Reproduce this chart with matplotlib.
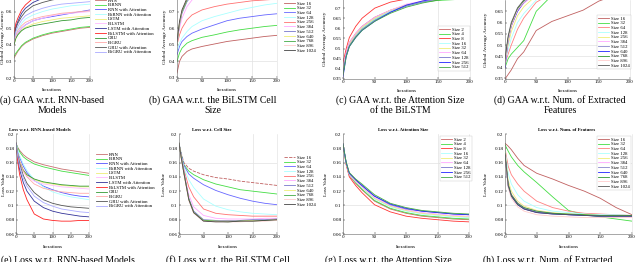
import matplotlib
matplotlib.use('Agg')
import matplotlib.pyplot as plt
from matplotlib.ticker import FuncFormatter

plt.rcParams['font.family'] = ['Liberation Serif', 'DejaVu Serif']

iters = [0, 5, 10, 20, 30, 50, 75, 100, 125, 150, 175, 200]

rnn_models = ['RNN', 'BiRNN', 'RNN with Attention', 'BiRNN with Attention', 'LSTM', 'BiLSTM',
              'LSTM with Attention', 'BiLSTM with Attention', 'GRU', 'BiGRU',
              'GRU with Attention', 'BiGRU with Attention']
cell_sizes = ['Size 16', 'Size 32', 'Size 64', 'Size 128', 'Size 256', 'Size 384',
              'Size 512', 'Size 640', 'Size 768', 'Size 896', 'Size 1024']
att_sizes = ['Size 2', 'Size 4', 'Size 8', 'Size 16', 'Size 32', 'Size 64',
             'Size 128', 'Size 256', 'Size 512']
feat_sizes = cell_sizes

gaa_rnn = [
    [0.32, 0.34, 0.36, 0.39, 0.41, 0.435, 0.455, 0.47, 0.48, 0.49, 0.50, 0.505],
    [0.33, 0.35, 0.365, 0.395, 0.415, 0.44, 0.46, 0.475, 0.485, 0.495, 0.505, 0.51],
    [0.41, 0.45, 0.47, 0.50, 0.52, 0.545, 0.56, 0.57, 0.58, 0.59, 0.60, 0.61],
    [0.42, 0.46, 0.49, 0.53, 0.555, 0.58, 0.60, 0.615, 0.625, 0.635, 0.64, 0.645],
    [0.40, 0.44, 0.46, 0.49, 0.505, 0.525, 0.54, 0.55, 0.56, 0.565, 0.57, 0.575],
    [0.42, 0.45, 0.47, 0.50, 0.52, 0.545, 0.56, 0.575, 0.585, 0.59, 0.595, 0.60],
    [0.45, 0.51, 0.54, 0.59, 0.62, 0.655, 0.68, 0.695, 0.705, 0.71, 0.715, 0.72],
    [0.47, 0.53, 0.56, 0.61, 0.64, 0.68, 0.71, 0.73, 0.74, 0.75, 0.755, 0.76],
    [0.40, 0.44, 0.46, 0.485, 0.50, 0.515, 0.525, 0.535, 0.545, 0.55, 0.56, 0.565],
    [0.42, 0.46, 0.485, 0.515, 0.535, 0.555, 0.57, 0.58, 0.59, 0.595, 0.60, 0.605],
    [0.44, 0.50, 0.53, 0.57, 0.60, 0.635, 0.655, 0.67, 0.68, 0.685, 0.69, 0.695],
    [0.43, 0.48, 0.51, 0.55, 0.575, 0.60, 0.62, 0.635, 0.645, 0.65, 0.655, 0.66],
]
gaa_cell = [
    [0.33, 0.40, 0.43, 0.46, 0.475, 0.49, 0.505, 0.52, 0.53, 0.54, 0.55, 0.557],
    [0.40, 0.45, 0.48, 0.51, 0.525, 0.545, 0.56, 0.577, 0.59, 0.60, 0.61, 0.617],
    [0.44, 0.49, 0.52, 0.55, 0.57, 0.595, 0.62, 0.645, 0.66, 0.67, 0.68, 0.687],
    [0.46, 0.51, 0.54, 0.58, 0.61, 0.645, 0.67, 0.69, 0.71, 0.725, 0.74, 0.75],
    [0.50, 0.56, 0.60, 0.65, 0.68, 0.71, 0.73, 0.745, 0.755, 0.765, 0.77, 0.775],
    [0.50, 0.60, 0.66, 0.73, 0.77, 0.81, 0.83, 0.84, 0.85, 0.85, 0.86, 0.86],
    [0.51, 0.62, 0.69, 0.76, 0.80, 0.83, 0.85, 0.86, 0.86, 0.87, 0.87, 0.87],
    [0.52, 0.63, 0.70, 0.77, 0.80, 0.84, 0.85, 0.86, 0.87, 0.87, 0.87, 0.88],
    [0.50, 0.63, 0.70, 0.77, 0.81, 0.84, 0.86, 0.86, 0.87, 0.87, 0.88, 0.88],
    [0.51, 0.63, 0.71, 0.78, 0.81, 0.84, 0.86, 0.87, 0.87, 0.88, 0.88, 0.88],
    [0.52, 0.64, 0.71, 0.78, 0.82, 0.85, 0.86, 0.87, 0.88, 0.88, 0.88, 0.89],
]
gaa_att = [
    [0.40, 0.48, 0.53, 0.575, 0.61, 0.655, 0.69, 0.715, 0.73, 0.74, 0.75, 0.755],
    [0.40, 0.47, 0.52, 0.565, 0.60, 0.645, 0.685, 0.715, 0.73, 0.738, 0.742, 0.75],
    [0.43, 0.50, 0.555, 0.61, 0.65, 0.70, 0.73, 0.745, 0.755, 0.765, 0.77, 0.775],
    [0.39, 0.47, 0.52, 0.565, 0.60, 0.645, 0.685, 0.71, 0.73, 0.745, 0.755, 0.76],
    [0.40, 0.47, 0.52, 0.57, 0.605, 0.65, 0.69, 0.715, 0.735, 0.745, 0.755, 0.76],
    [0.41, 0.48, 0.53, 0.575, 0.61, 0.655, 0.69, 0.72, 0.735, 0.745, 0.755, 0.765],
    [0.38, 0.47, 0.515, 0.56, 0.595, 0.64, 0.68, 0.71, 0.73, 0.745, 0.755, 0.765],
    [0.36, 0.46, 0.51, 0.555, 0.59, 0.635, 0.68, 0.715, 0.735, 0.75, 0.76, 0.77],
    [0.37, 0.46, 0.51, 0.555, 0.59, 0.635, 0.675, 0.705, 0.725, 0.74, 0.75, 0.76],
]
gaa_feat = [
    [0.35, 0.37, 0.39, 0.44, 0.47, 0.565, 0.605, 0.63, 0.655, 0.695, 0.72, 0.74],
    [0.40, 0.44, 0.46, 0.49, 0.52, 0.65, 0.72, 0.74, 0.75, 0.76, 0.77, 0.77],
    [0.42, 0.46, 0.50, 0.57, 0.62, 0.69, 0.73, 0.75, 0.76, 0.77, 0.78, 0.78],
    [0.42, 0.48, 0.53, 0.60, 0.64, 0.70, 0.74, 0.76, 0.77, 0.78, 0.78, 0.78],
    [0.42, 0.50, 0.56, 0.63, 0.67, 0.72, 0.75, 0.77, 0.77, 0.78, 0.78, 0.79],
    [0.40, 0.52, 0.58, 0.65, 0.685, 0.73, 0.76, 0.77, 0.78, 0.78, 0.79, 0.79],
    [0.41, 0.53, 0.59, 0.655, 0.69, 0.735, 0.76, 0.77, 0.78, 0.78, 0.79, 0.79],
    [0.40, 0.52, 0.585, 0.65, 0.69, 0.735, 0.76, 0.77, 0.78, 0.79, 0.79, 0.79],
    [0.43, 0.53, 0.59, 0.66, 0.695, 0.74, 0.765, 0.775, 0.78, 0.79, 0.79, 0.79],
    [0.41, 0.52, 0.585, 0.655, 0.69, 0.735, 0.76, 0.77, 0.78, 0.79, 0.79, 0.79],
    [0.44, 0.54, 0.60, 0.665, 0.70, 0.745, 0.77, 0.78, 0.785, 0.79, 0.79, 0.80],
]
loss_rnn = [
    [0.187, 0.181, 0.177, 0.171, 0.167, 0.161, 0.157, 0.154, 0.151, 0.149, 0.147, 0.145],
    [0.187, 0.180, 0.175, 0.168, 0.164, 0.158, 0.154, 0.151, 0.148, 0.146, 0.144, 0.142],
    [0.187, 0.176, 0.167, 0.155, 0.146, 0.135, 0.127, 0.122, 0.118, 0.115, 0.113, 0.112],
    [0.187, 0.178, 0.170, 0.158, 0.149, 0.136, 0.126, 0.119, 0.115, 0.112, 0.110, 0.108],
    [0.187, 0.172, 0.162, 0.150, 0.143, 0.136, 0.132, 0.130, 0.128, 0.127, 0.126, 0.126],
    [0.187, 0.170, 0.160, 0.148, 0.141, 0.134, 0.130, 0.128, 0.126, 0.125, 0.124, 0.123],
    [0.187, 0.165, 0.150, 0.132, 0.120, 0.106, 0.097, 0.092, 0.089, 0.087, 0.085, 0.084],
    [0.187, 0.160, 0.143, 0.122, 0.108, 0.088, 0.081, 0.079, 0.078, 0.078, 0.079, 0.079],
    [0.187, 0.171, 0.161, 0.149, 0.143, 0.137, 0.133, 0.131, 0.129, 0.128, 0.127, 0.127],
    [0.187, 0.172, 0.162, 0.148, 0.140, 0.130, 0.124, 0.121, 0.119, 0.118, 0.117, 0.117],
    [0.187, 0.170, 0.158, 0.142, 0.131, 0.118, 0.108, 0.103, 0.100, 0.098, 0.097, 0.096],
    [0.187, 0.168, 0.155, 0.138, 0.127, 0.113, 0.104, 0.099, 0.095, 0.093, 0.091, 0.090],
]
loss_cell = [
    [0.187, 0.172, 0.160, 0.152, 0.148, 0.143, 0.139, 0.137, 0.134, 0.132, 0.130, 0.128],
    [0.187, 0.170, 0.157, 0.148, 0.143, 0.136, 0.130, 0.126, 0.122, 0.120, 0.118, 0.116],
    [0.187, 0.170, 0.156, 0.144, 0.138, 0.129, 0.121, 0.115, 0.110, 0.106, 0.103, 0.101],
    [0.187, 0.168, 0.153, 0.136, 0.125, 0.109, 0.099, 0.094, 0.091, 0.089, 0.088, 0.087],
    [0.187, 0.167, 0.150, 0.126, 0.112, 0.095, 0.089, 0.087, 0.086, 0.085, 0.085, 0.085],
    [0.187, 0.166, 0.148, 0.115, 0.098, 0.086, 0.082, 0.081, 0.081, 0.081, 0.082, 0.082],
    [0.187, 0.166, 0.146, 0.110, 0.092, 0.080, 0.079, 0.079, 0.079, 0.080, 0.080, 0.081],
    [0.187, 0.165, 0.145, 0.108, 0.090, 0.079, 0.078, 0.078, 0.078, 0.079, 0.079, 0.080],
    [0.187, 0.165, 0.146, 0.109, 0.090, 0.079, 0.078, 0.077, 0.078, 0.078, 0.079, 0.079],
    [0.187, 0.164, 0.144, 0.107, 0.089, 0.078, 0.077, 0.077, 0.077, 0.078, 0.078, 0.079],
    [0.187, 0.165, 0.145, 0.108, 0.090, 0.078, 0.077, 0.077, 0.078, 0.078, 0.079, 0.080],
]
loss_att = [
    [0.186, 0.158, 0.142, 0.131, 0.122, 0.106, 0.095, 0.089, 0.085, 0.083, 0.081, 0.080],
    [0.186, 0.159, 0.143, 0.132, 0.123, 0.107, 0.096, 0.090, 0.086, 0.084, 0.082, 0.081],
    [0.186, 0.157, 0.140, 0.128, 0.118, 0.101, 0.091, 0.085, 0.082, 0.080, 0.078, 0.077],
    [0.186, 0.159, 0.143, 0.133, 0.125, 0.109, 0.098, 0.092, 0.088, 0.086, 0.084, 0.083],
    [0.186, 0.159, 0.144, 0.134, 0.126, 0.110, 0.099, 0.093, 0.089, 0.087, 0.085, 0.084],
    [0.186, 0.160, 0.144, 0.134, 0.126, 0.111, 0.100, 0.094, 0.090, 0.088, 0.086, 0.085],
    [0.186, 0.160, 0.145, 0.136, 0.128, 0.113, 0.101, 0.095, 0.092, 0.090, 0.088, 0.087],
    [0.186, 0.160, 0.145, 0.136, 0.128, 0.113, 0.102, 0.096, 0.092, 0.090, 0.088, 0.087],
    [0.186, 0.161, 0.146, 0.137, 0.130, 0.115, 0.103, 0.097, 0.093, 0.091, 0.089, 0.088],
]
loss_feat = [
    [0.187, 0.183, 0.178, 0.166, 0.156, 0.145, 0.137, 0.128, 0.120, 0.110, 0.097, 0.087],
    [0.185, 0.176, 0.168, 0.156, 0.147, 0.132, 0.112, 0.093, 0.087, 0.084, 0.081, 0.078],
    [0.180, 0.155, 0.143, 0.130, 0.120, 0.106, 0.097, 0.092, 0.089, 0.088, 0.087, 0.086],
    [0.178, 0.145, 0.130, 0.115, 0.106, 0.097, 0.092, 0.090, 0.088, 0.087, 0.087, 0.086],
    [0.175, 0.135, 0.120, 0.106, 0.099, 0.093, 0.090, 0.088, 0.087, 0.086, 0.086, 0.085],
    [0.172, 0.130, 0.116, 0.104, 0.097, 0.092, 0.089, 0.087, 0.086, 0.086, 0.085, 0.085],
    [0.170, 0.128, 0.114, 0.102, 0.096, 0.091, 0.089, 0.087, 0.086, 0.085, 0.085, 0.085],
    [0.170, 0.127, 0.113, 0.101, 0.095, 0.090, 0.088, 0.087, 0.086, 0.085, 0.085, 0.085],
    [0.173, 0.130, 0.115, 0.103, 0.097, 0.092, 0.089, 0.088, 0.087, 0.086, 0.086, 0.086],
    [0.168, 0.125, 0.110, 0.098, 0.092, 0.087, 0.085, 0.084, 0.083, 0.083, 0.083, 0.083],
    [0.171, 0.128, 0.113, 0.101, 0.095, 0.090, 0.088, 0.087, 0.086, 0.085, 0.085, 0.085],
]

# colours
rnn_colors = ['#c87070', '#44dd44', '#5555ff', '#aaffff', '#eeee77', '#ffbbff',
              '#333399', '#ff2222', '#339933', '#ffaaaa', '#555555', '#aaaaff']
cell_colors = ['#c06060', '#44dd44', '#6666ff', '#aaffff', '#ff7070', '#ffaaff',
               '#7777cc', '#eeee77', '#44aa44', '#ffcccc', '#444444']
feat_colors = ['#c06060', '#44dd44', '#ff8080', '#aaffff', '#eeee77', '#ffaaff',
               '#8888cc', '#2222ff', '#339933', '#ffcccc', '#555555']
att_colors = ['#cc6666', '#44dd44', '#ff3333', '#aaffff', '#eeee77', '#ffaaff',
              '#7777cc', '#2222ff', '#44aa44']

W, H = 640, 262
fig = plt.figure(figsize=(6.4, 2.62), dpi=100)


def add_ax(x0, x1, ytop, ybot):
    return fig.add_axes([x0 / W, 1 - ybot / H, (x1 - x0) / W, (ybot - ytop) / H])


def style(ax, ylim, yticks, ylabel, ylab_x, hgrid, vgrid):
    ax.set_xlim(0, 200)
    ax.set_ylim(*ylim)
    ax.set_xticks([0, 50, 100, 150, 200])
    ax.set_yticks(yticks)
    ax.yaxis.set_major_formatter(FuncFormatter(lambda v, p: '{:g}'.format(round(v, 3))))
    ax.tick_params(labelsize=3.6, length=1.2, width=0.3, pad=1, direction='in')
    for g in hgrid:
        ax.axhline(g, color='#e2e2e2', lw=0.5, zorder=0)
    for g in vgrid:
        ax.axvline(g, color='#e2e2e2', lw=0.5, zorder=0)
    ax.spines['top'].set_visible(False)
    ax.spines['right'].set_color('#dddddd')
    for s in ['left', 'bottom']:
        ax.spines[s].set_color('#666666')
    for s in ax.spines.values():
        s.set_linewidth(0.4)
    bb = ax.get_position()
    ax.set_xlabel('Iterations', fontsize=3.8)
    ax.xaxis.set_label_coords(0.5, -10.5 / (bb.height * H))
    ax.set_ylabel(ylabel, fontsize=3.8)
    ax.yaxis.set_label_coords((ylab_x - bb.x0 * W) / (bb.width * W), 0.5)


def draw(ax, series, labels, colors, dashed_first=False):
    for i, (ys, lab, c) in enumerate(zip(series, labels, colors)):
        ls = (0, (4, 1.5)) if (dashed_first and i == 0) else '-'
        ax.plot(iters, ys, color=c, lw=0.6, ls=ls, label=lab)


def put_legend(ax, x, y, frame):
    leg = ax.legend(loc='upper left', bbox_to_anchor=(x / W, 1 - y / H),
                    bbox_transform=fig.transFigure, fontsize=3.4, frameon=frame,
                    handlelength=2.2, handletextpad=0.5, labelspacing=0.08,
                    borderpad=0.3, borderaxespad=0, fancybox=False)
    if frame:
        leg.get_frame().set_linewidth(0.3)
        leg.get_frame().set_edgecolor('#bbbbbb')


gaa_label = 'Global Average Accuracy'
loss_ticks = [0.06, 0.08, 0.10, 0.12, 0.14, 0.16, 0.18, 0.20]

# (a)
ax = add_ax(14, 90, -5, 78)
draw(ax, gaa_rnn, rnn_models, rnn_colors)
style(ax, (0.2, 0.7), [0.2, 0.3, 0.4, 0.5, 0.6], gaa_label, 5, [], [50])
put_legend(ax, 94, -3, False)

# (b)
ax = add_ax(177, 277, -5, 78)
draw(ax, gaa_cell, cell_sizes, cell_colors)
style(ax, (0.3, 0.8), [0.3, 0.4, 0.5, 0.6, 0.7], gaa_label, 167, [0.4], [150])
put_legend(ax, 283, 0, False)

# (c)
ax = add_ax(343, 470, -2, 79)
draw(ax, gaa_att, att_sizes, att_colors)
style(ax, (0.35, 0.75), [0.35, 0.4, 0.45, 0.5, 0.55, 0.6, 0.65, 0.7],
      gaa_label, 327, [], [150])
put_legend(ax, 438, 26, True)

# (d)
ax = add_ax(505, 630, 0, 79)
draw(ax, gaa_feat, feat_sizes, feat_colors)
style(ax, (0.35, 0.7), [0.35, 0.4, 0.45, 0.5, 0.55, 0.6, 0.65],
      gaa_label, 488, [0.4, 0.45, 0.5], [])
put_legend(ax, 597, 15, True)

# (e)
ax = add_ax(16, 89, 134, 234)
draw(ax, loss_rnn, rnn_models, rnn_colors)
style(ax, (0.06, 0.2), loss_ticks, 'Loss Value', 6, [0.1, 0.16], [100])
put_legend(ax, 95, 151, False)

# (f)
ax = add_ax(179, 277, 134, 234)
draw(ax, loss_cell, cell_sizes, cell_colors, dashed_first=True)
style(ax, (0.06, 0.2), loss_ticks, 'Loss Value', 166, [0.1, 0.16], [150])
put_legend(ax, 283, 154, False)

# (g)
ax = add_ax(343, 469, 134, 234)
draw(ax, loss_att, att_sizes, att_colors)
style(ax, (0.06, 0.2), loss_ticks, 'Loss Value', 328, [0.1, 0.16], [150])
put_legend(ax, 440, 136, True)

# (h)
ax = add_ax(505, 632, 134, 234)
draw(ax, loss_feat, feat_sizes, feat_colors)
style(ax, (0.06, 0.2), loss_ticks, 'Loss Value', 488, [0.1, 0.16], [])
put_legend(ax, 597, 136, True)

# panel titles of the loss row
for x, t in [(40, 'Loss w.r.t. RNN-based Models'), (212, 'Loss w.r.t. Cell Size'),
             (403, 'Loss w.r.t. Attention Size'), (567, 'Loss w.r.t. Num. of Features')]:
    fig.text(x / W, 1 - 130 / H, t, fontsize=3.4, fontweight='bold', ha='center', va='center')

# sub captions
caps_top = [(52, '(a) GAA w.r.t. RNN-based', 'Models'),
            (213, '(b) GAA w.r.t. the BiLSTM Cell', 'Size'),
            (400, '(c) GAA w.r.t. the Attention Size', 'of the BiLSTM'),
            (560, '(d) GAA w.r.t. Num. of Extracted', 'Features')]
for x, l1, l2 in caps_top:
    fig.text(x / W, 1 - 100 / H, l1, fontsize=7, ha='center', va='center')
    fig.text(x / W, 1 - 110.5 / H, l2, fontsize=7, ha='center', va='center')

caps_bot = [(1, '(e) Loss w.r.t. RNN-based Models'), (166, '(f) Loss w.r.t. the BiLSTM Cell'),
            (325, '(g) Loss w.r.t. the Attention Size'), (483, '(h) Loss w.r.t. Num. of Extracted')]
for x, t in caps_bot:
    fig.text(x / W, 1 - 255 / H, t, fontsize=7, ha='left', va='top')

fig.savefig('out.png', dpi=100)
